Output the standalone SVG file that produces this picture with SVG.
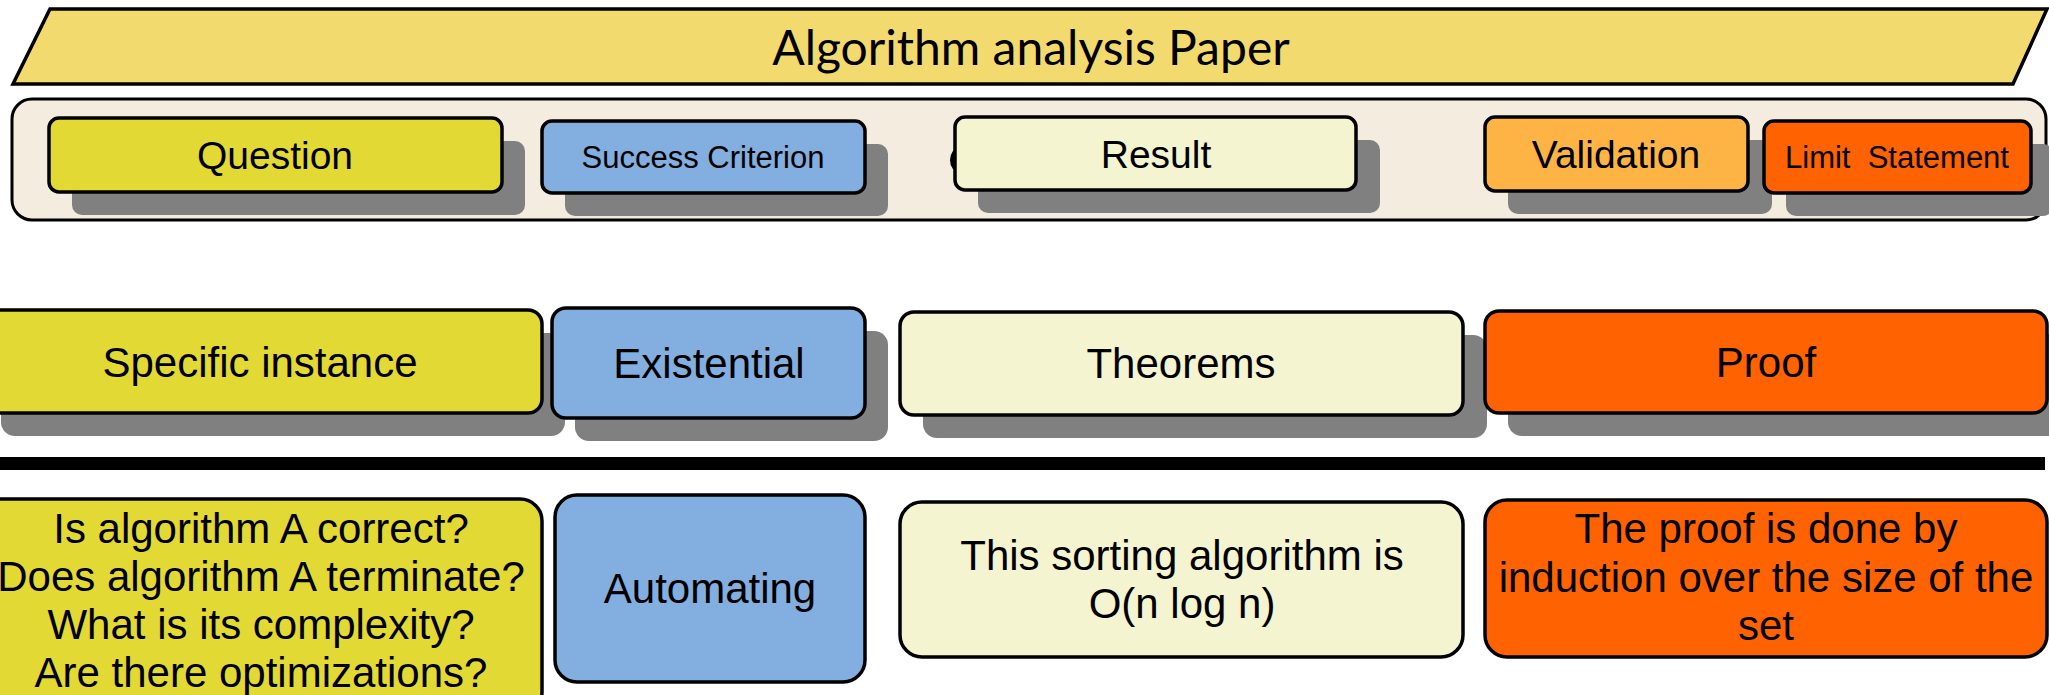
<svg xmlns="http://www.w3.org/2000/svg" width="2049" height="695" viewBox="0 0 2049 695">
<style>
.bx{stroke:#000;stroke-width:3.5}
.sh{fill:#808080}
.y{fill:#E2D935}
.b{fill:#82AFE0}
.l{fill:#F4F4D0}
.v{fill:#FDB444}
.o{fill:#FF6200}
.t{font-family:"Liberation Sans",Arial,sans-serif;fill:#000;text-anchor:middle}
.s42{font-size:42px}
.s39{font-size:39px}
.s31{font-size:31px}
</style>
<rect width="2049" height="695" fill="#fff"/>
<g id="title">
<polygon points="50,9 2047,9 2013,84 13,84" fill="#F3DA6F" stroke="#000" stroke-width="3.5"/>
<text x="1031" y="65" style="font-family:Lato,'Open Sans',sans-serif;font-size:48px;text-anchor:middle">Algorithm analysis Paper</text>
</g>
<g id="container">
<rect x="12" y="99" width="2034" height="121" rx="20" fill="#F4ECDF" stroke="#000" stroke-width="3"/>
<ellipse cx="959" cy="160" rx="9" ry="12" fill="#000"/>
</g>
<g id="question">
<rect class="sh" x="72" y="141" width="453" height="74" rx="10"/>
<rect class="bx y" x="49" y="118" width="453" height="74" rx="10"/>
<text class="t s39" x="275" y="169">Question</text>
</g>
<g id="success">
<rect class="sh" x="565" y="144" width="323" height="72" rx="10"/>
<rect class="bx b" x="542" y="121" width="323" height="72" rx="10"/>
<text class="t s31" x="703" y="168">Success Criterion</text>
</g>
<g id="result">
<rect class="sh" x="978" y="140" width="402" height="73" rx="10"/>
<rect class="bx l" x="955" y="117" width="401" height="73" rx="10"/>
<text class="t s39" x="1156" y="168">Result</text>
</g>
<g id="validation">
<rect class="sh" x="1508" y="140" width="264" height="74" rx="10"/>
<rect class="bx v" x="1485" y="117" width="263" height="74" rx="10"/>
<text class="t s39" x="1616" y="168">Validation</text>
</g>
<g id="limit">
<rect class="sh" x="1786" y="144" width="267" height="72" rx="10"/>
<rect class="bx o" x="1764" y="121" width="267" height="72" rx="10"/>
<text class="t s31" x="1897" y="168" xml:space="preserve">Limit  Statement</text>
</g>
<g id="specific">
<rect class="sh" x="1" y="333" width="564" height="103" rx="14"/>
<rect class="bx y" x="-22" y="310" width="564" height="103" rx="14"/>
<text class="t s42" x="260" y="377">Specific instance</text>
</g>
<g id="existential">
<rect class="sh" x="575" y="331" width="313" height="110" rx="14"/>
<rect class="bx b" x="552" y="308" width="313" height="110" rx="14"/>
<text class="t s42" x="709" y="378">Existential</text>
</g>
<g id="theorems">
<rect class="sh" x="923" y="335" width="564" height="103" rx="14"/>
<rect class="bx l" x="900" y="312" width="563" height="103" rx="14"/>
<text class="t s42" x="1181" y="378">Theorems</text>
</g>
<g id="proof">
<rect class="sh" x="1508" y="334" width="562" height="102" rx="14"/>
<rect class="bx o" x="1485" y="311" width="562" height="102" rx="14"/>
<text class="t s42" x="1766" y="377">Proof</text>
</g>
<g id="separator">
<rect x="0" y="457" width="2045" height="13" fill="#000"/>
</g>
<g id="questions-detail">
<rect class="bx y" x="-22" y="499" width="564" height="215" rx="22"/>
<text class="t s42" x="261"><tspan x="261" y="543">Is algorithm A correct?</tspan><tspan x="261" y="591">Does algorithm A terminate?</tspan><tspan x="261" y="639">What is its complexity?</tspan><tspan x="261" y="687">Are there optimizations?</tspan></text>
</g>
<g id="automating">
<rect class="bx b" x="555" y="495" width="310" height="187" rx="22"/>
<text class="t s42" x="710" y="603">Automating</text>
</g>
<g id="result-detail">
<rect class="bx l" x="900" y="502" width="563" height="155" rx="22"/>
<text class="t s42" x="1182"><tspan x="1182" y="570">This sorting algorithm is</tspan><tspan x="1182" y="618">O(n log n)</tspan></text>
</g>
<g id="proof-detail">
<rect class="bx o" x="1485" y="500" width="562" height="157" rx="22"/>
<text class="t s42" x="1766"><tspan x="1766" y="543">The proof is done by</tspan><tspan x="1766" y="592">induction over the size of the</tspan><tspan x="1766" y="640">set</tspan></text>
</g>
<g id="connectors"></g>
</svg>
